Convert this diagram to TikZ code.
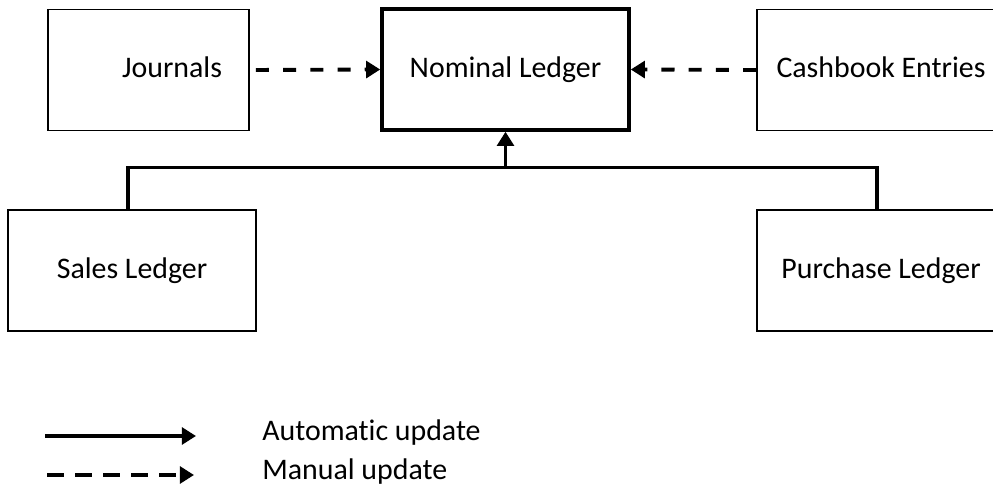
\documentclass[tikz,border=0pt]{standalone}
\usepackage{fontspec}
\setmainfont{Carlito}[Ligatures=NoCommon]
\usetikzlibrary{arrows.meta,calc}
\tikzset{
  ledger/.style={draw, line width=0.9pt, minimum width=4.96cm, minimum height=2.42cm, inner sep=0pt, text height=13pt, text depth=3.9pt, font=\fontsize{17}{20}\selectfont},
  keytext/.style={anchor=west, inner sep=0pt, font=\fontsize{17}{20}\selectfont},
  auto update/.style={line width=1.8pt, -{Triangle[length=8pt,width=9.5pt]}},
  manual update/.style={line width=2.2pt, dash pattern=on 7.5pt off 8pt, -{Triangle[length=8pt,width=9.5pt]}},
}
\begin{document}
\begin{tikzpicture}
    \clip (0,0) rectangle (19.86,9.78);
    % ledgers
    \node[ledger, line width=2pt, minimum width=4.94cm] (nominal) at (10.11,8.39) {Nominal Ledger};
    \node[ledger, minimum width=4.02cm, text width=2.94cm, align=right] (journals) at (2.97,8.38) {Journals};
    \node[ledger] (cashbook) at (17.62,8.38) {Cashbook Entries};
    \node[ledger] (sales) at (2.64,4.37) {Sales Ledger};
    \node[ledger] (purchase) at (17.62,4.37) {Purchase Ledger};
    % automatic update from the sub ledgers
    \coordinate (bus) at ($(nominal.south)+(0,-0.72)$);
    \draw[line width=1.8pt] ($(sales.north)+(-0.08,0)$) |- (bus) -| ($(purchase.north)+(-0.08,0)$);
    \draw[auto update] (bus) -- (nominal.south);
    % manual update
    \draw[manual update, shorten <=0.12cm] (journals.east) -- (nominal.west);
    \draw[manual update] (cashbook.west) -- (nominal.east);
    % key
    \coordinate (autoA) at (0.9,1.06);
    \coordinate (autoB) at (3.92,1.06);
    \coordinate (manA) at (0.94,0.28);
    \coordinate (manB) at (3.88,0.28);
    \draw[auto update, line width=2pt] (autoA) -- (autoB);
    \draw[manual update, dash pattern=on 9.5pt off 6.5pt] (manA) -- (manB);
    \node[keytext] (autolabel) at (5.24,1.12) {Automatic update};
    \node[keytext] (manlabel) at (5.24,0.34) {Manual update};
\end{tikzpicture}
\end{document}
